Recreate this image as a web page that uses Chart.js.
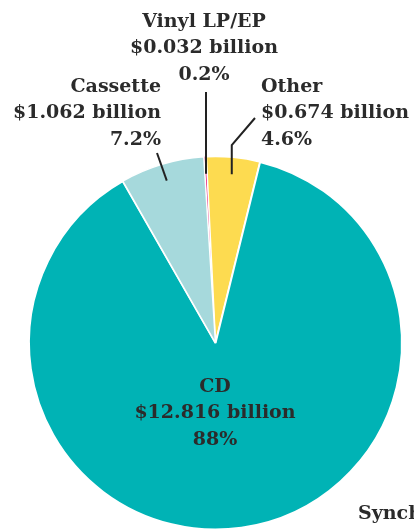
<!DOCTYPE html>
<html>
<head>
<meta charset="utf-8">
<script src="https://cdn.jsdelivr.net/npm/chart.js@4.4.0/dist/chart.umd.min.js"></script>
<style>
html, body { margin: 0; padding: 0; background: #fff; }
#wrap { width: 414px; height: 529px; overflow: hidden; position: relative; }
#wrap canvas { display: block; }
</style>
</head>
<body>
<div id="wrap"><canvas id="pie" width="414" height="560"></canvas></div>
<script>
// donnees du graphique (milliards de dollars)
const formats = ['Vinyl LP/EP', 'Other', 'CD', 'Cassette'];
const revenue = [0.032, 0.674, 12.816, 1.062];
const shares = ['0.2%', '4.6%', '88%', '7.2%'];
const colours = ['#e3136f', '#fddb50', '#00b3b5', '#a6d9dc'];
const extraLabel = 'Synch';

// position des etiquettes (mise en page seulement)
const labelPos = [
    { x: 204, y: 22, align: 'center', from: [null, 92] },
    { x: 261, y: 87, align: 'left', from: [255, 118], elbow: 145 },
    { x: 215, y: 387, align: 'center' },
    { x: 161, y: 87, align: 'right', from: [157, 153] }
];
const lineGap = 26.5;

const labelPlugin = {
    id: 'labels',
    afterDraw(chart) {
        const ctx = chart.ctx;
        const arcs = chart.getDatasetMeta(0).data;
        ctx.save();
        ctx.fillStyle = '#2b2b2b';
        ctx.strokeStyle = '#222';
        ctx.lineWidth = 2;
        ctx.font = 'bold 19px "DejaVu Serif"';
        ctx.textBaseline = 'middle';
        arcs.forEach((arc, i) => {
            const p = labelPos[i];
            const lines = [formats[i], '$' + revenue[i].toFixed(3) + ' billion', shares[i]];
            ctx.textAlign = p.align;
            lines.forEach((t, k) => ctx.fillText(t, p.x, p.y + k * lineGap));
            if (p.from) {
                const mid = (arc.startAngle + arc.endAngle) / 2;
                const r = arc.outerRadius - 17;
                const ex = arc.x + Math.cos(mid) * r;
                const ey = arc.y + Math.sin(mid) * r;
                const sx = p.from[0] === null ? ex : p.from[0];
                ctx.beginPath();
                ctx.moveTo(sx, p.from[1]);
                if (p.elbow) ctx.lineTo(ex, p.elbow);
                ctx.lineTo(ex, ey);
                ctx.stroke();
            }
        });
        ctx.textAlign = 'left';
        ctx.fillText(extraLabel, 358, 514);
        ctx.restore();
    }
};

new Chart(document.getElementById('pie').getContext('2d'), {
    type: 'pie',
    data: {
        labels: formats,
        datasets: [{
            data: revenue,
            backgroundColor: colours,
            borderColor: '#ffffff',
            borderWidth: [0.5, 1.5, 2, 1.5]
        }]
    },
    options: {
        responsive: false,
        animation: false,
        rotation: -3.6,
        layout: { padding: { left: 28, right: 11, top: 155.5, bottom: 29.5 } },
        plugins: {
            legend: { display: false },
            tooltip: { enabled: false }
        }
    },
    plugins: [labelPlugin]
});
</script>
</body>
</html>
